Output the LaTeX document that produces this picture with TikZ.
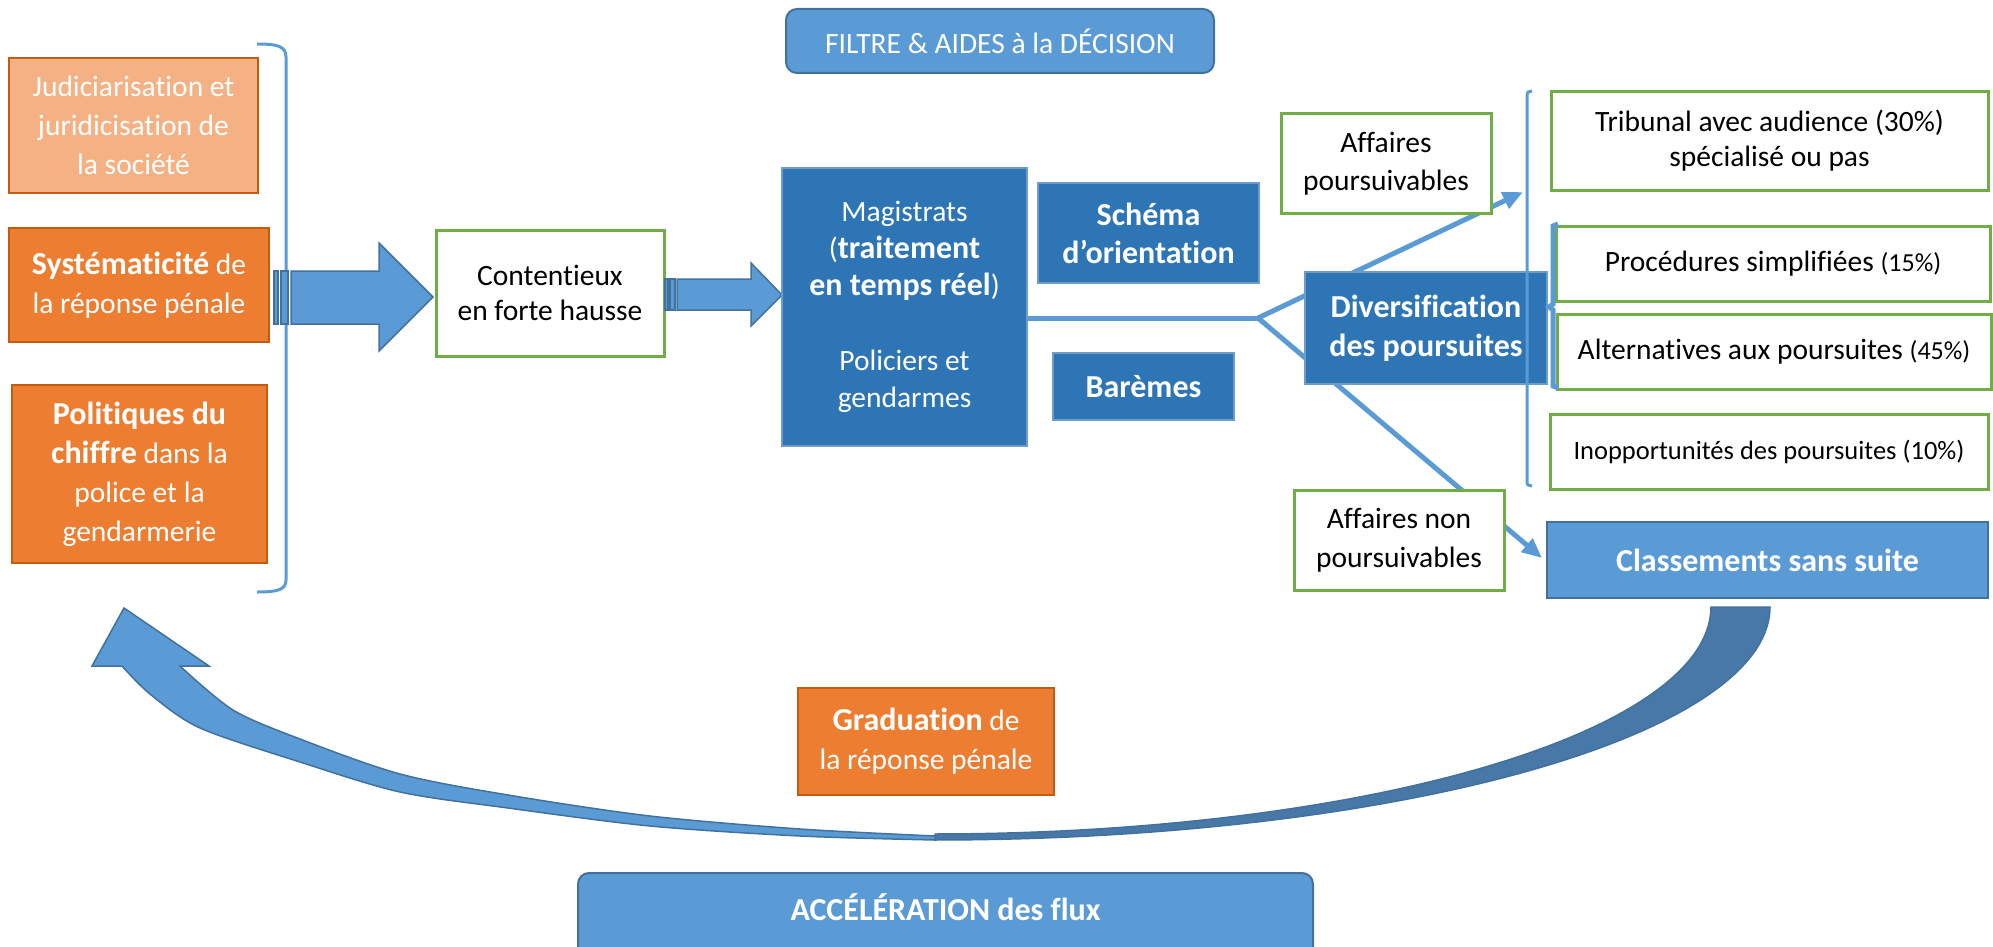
\documentclass[tikz,border=0pt]{standalone}
\usepackage{fontspec}
\setmainfont{Carlito}[Ligatures={NoCommon,NoContextual,NoRare}]
\usetikzlibrary{arrows.meta,backgrounds}
\definecolor{orL}{HTML}{F4B183}
\definecolor{orM}{HTML}{ED7D31}
\definecolor{orD}{HTML}{C55A11}
\definecolor{grn}{HTML}{70AD47}
\definecolor{bDk}{HTML}{2E75B6}
\definecolor{bDkE}{HTML}{6F9BCB}
\definecolor{bMd}{HTML}{5B9BD5}
\definecolor{bEdge}{HTML}{41719C}
\definecolor{bBack}{HTML}{4878A8}
\newcommand\bigb[1]{{\fontsize{32pt}{\the\baselineskip}\selectfont\bfseries #1}}
\begin{document}
\begin{tikzpicture}[x=1pt,y=-1pt,
  txt/.style={font=\fontsize{29.5pt}{39pt}\selectfont, align=center, inner sep=0pt, outer sep=0pt},
  orlight/.style={txt, fill=orL, draw=orD, line width=2.5pt, text=white},
  ormid/.style={txt, fill=orM, draw=orD, line width=2.5pt, text=white},
  gbox/.style={txt, fill=white, draw=grn, line width=3pt, text=black},
  dbox/.style={txt, fill=bDk, draw=bDkE, line width=1.5pt, text=white},
  mbox/.style={txt, fill=bMd, draw=bEdge, line width=2.5pt, text=white},
  rbox/.style={mbox, rounded corners=11pt, line width=2pt},
  boldtxt/.style={font=\fontsize{32pt}{#1}\selectfont\bfseries},
  conn/.style={draw=bMd, line width=5pt},
  tip/.style={-{Triangle[length=20pt,width=17pt]}},
  brk/.style={draw=bMd, line width=3pt},
  blockarrow/.style={fill=bMd, draw=bEdge, line width=1.5pt},
]
\path[use as bounding box] (0,0) rectangle (1993,947);
\clip (0,0) rectangle (1993,947);

% left column
\node[orlight, minimum width=249pt, minimum height=135pt] (judi) at (133.5,125.5)
  {Judiciarisation et\\juridicisation de\\la société};
\node[ormid, minimum width=260pt, minimum height=114pt] (syst) at (139,285)
  {\bigb{Systématicité} de\\la réponse pénale};
\node[ormid, minimum width=255pt, minimum height=178pt] (poli) at (139.5,474)
  {\bigb{Politiques du}\\\bigb{chiffre} dans la\\police et la\\gendarmerie};

% left bracket
\draw[brk] (257,44) .. controls (277,44) and (286,46) .. (286,57) -- (286,580) .. controls (286,590) and (277,592) .. (257,592);

% block arrow 1
\filldraw[blockarrow] (274,271) rectangle (278,324);
\filldraw[blockarrow] (281,271) rectangle (288,324);
\filldraw[blockarrow] (291,271) -- (379,271) -- (379,243) -- (433,297) -- (379,351) -- (379,324) -- (291,324) -- cycle;

\node[gbox, minimum width=228pt, minimum height=126pt, font=\fontsize{29.5pt}{35pt}\selectfont] (cont) at (550,293)
  {Contentieux\\en forte hausse};

% block arrow 2
\filldraw[blockarrow] (665,279) rectangle (668,310);
\filldraw[blockarrow] (670,279) rectangle (675,310);
\filldraw[blockarrow] (677,279) -- (751,279) -- (751,263) -- (782,295) -- (751,326) -- (751,310) -- (677,310) -- cycle;

% top
\node[rbox, minimum width=428pt, minimum height=64pt] (filtre) at (1000,41)
  {FILTRE \& AIDES à la DÉCISION};

% centre
\node[dbox, minimum width=245pt, minimum height=278pt, font=\fontsize{29.5pt}{37.3pt}\selectfont] (mag) at (904.5,307)
  {Magistrats\\(\bigb{traitement}\\\bigb{en temps réel})\\[37.3pt]Policiers et\\gendarmes};
\node[dbox, minimum width=221pt, minimum height=100pt, boldtxt=38pt] (sch) at (1148.5,233)
  {Schéma\\d’orientation};
\node[dbox, minimum width=181pt, minimum height=67pt, boldtxt=38pt] (bar) at (1143.5,386.5)
  {Barèmes};

\node[dbox, minimum width=242pt, minimum height=112pt, boldtxt=39pt] (div) at (1426,328)
  {Diversification\\des poursuites};

\node[gbox, minimum width=210pt, minimum height=99pt, font=\fontsize{29.5pt}{38pt}\selectfont] (affp) at (1386,163.5)
  {Affaires\\poursuivables};
\node[gbox, minimum width=210pt, minimum height=100pt] (affn) at (1399,540)
  {Affaires non\\poursuivables};

% right column
\node[gbox, minimum width=437pt, minimum height=98pt, font=\fontsize{29.5pt}{35pt}\selectfont] (trib) at (1769.5,141)
  {Tribunal avec audience (30\%)\\spécialisé ou pas};
\node[gbox, minimum width=434pt, minimum height=75pt] (proc) at (1773,263.5)
  {Procédures simplifiées {\fontsize{26pt}{30pt}\selectfont(15\%)}};
\node[gbox, minimum width=434pt, minimum height=75pt] (alt) at (1774,351.5)
  {Alternatives aux poursuites {\fontsize{26pt}{30pt}\selectfont(45\%)}};
\node[gbox, minimum width=438pt, minimum height=75pt, font=\fontsize{26.5pt}{32pt}\selectfont] (inop) at (1769,451.5)
  {Inopportunités des poursuites (10\%)};
\node[mbox, minimum width=441pt, minimum height=76pt, boldtxt=35pt] (class) at (1767.5,560)
  {Classements sans suite};

% right brackets
\draw[brk] (1532,91) -- (1528,92) -- (1527,95) -- (1527,483) -- (1528,485) -- (1532,486);
\draw[brk, line width=5pt] (1558,224) -- (1553,226) -- (1553,304) -- (1549,307) -- (1553,310) -- (1553,386) -- (1558,388);

% connectors (behind boxes)
\coordinate (fork) at (1258,318);
\coordinate (tipup) at (1523,192);
\coordinate (tipdn) at (1542,558);
\begin{scope}[on background layer]
\draw[conn] (mag.east |- fork) -- (fork);
\draw[conn, tip] (fork) -- (tipup);
\draw[conn, tip] (fork) -- (tipdn);
\end{scope}

% bottom
\node[ormid, minimum width=256pt, minimum height=107pt] (grad) at (926,741.5)
  {\bigb{Graduation} de\\la réponse pénale};
\node[rbox, minimum width=735pt, anchor=north, text height=47pt, text depth=103pt, boldtxt=35pt] (accel) at (945.5,873)
  {ACCÉLÉRATION des flux};

% curved return arrow: back (dark) part
\filldraw[fill=bBack, draw=bEdge, line width=1.5pt]
  (1711,607) -- (1770,607)
  -- plot[domain=0:90, samples=60] ({935+835*cos(\x)},{607+233*sin(\x)})
  -- plot[domain=90:0, samples=60] ({935+776*cos(\x)},{607+227*sin(\x)})
  -- cycle;
% front (light) part with head
\filldraw[fill=bMd, draw=bEdge, line width=1.5pt]
  (124,608) -- (209,666) -- (180,666)
  -- plot[smooth] coordinates {(180,666) (233,710) (300,739) (400,774) (508,795) (650,816) (800,829) (935,836)}
  -- (935,840)
  -- plot[smooth] coordinates {(935,840) (800,836) (650,826) (508,808) (400,792) (300,762) (200,728) (150,694) (122,666)}
  -- (92,666) -- cycle;
\end{tikzpicture}
\end{document}
